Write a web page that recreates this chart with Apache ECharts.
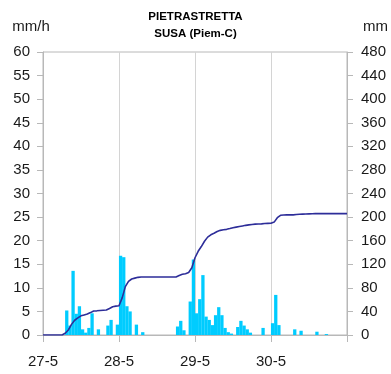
<!DOCTYPE html>
<html>
<head>
<meta charset="utf-8">
<script src="https://cdn.jsdelivr.net/npm/echarts@6/dist/echarts.min.js"></script>
<style>
  html, body { margin: 0; padding: 0; background: #fff; }
  #chart { width: 391px; height: 374px; }
</style>
</head>
<body>
<div id="chart"></div>
<script>
// Day labels at each midnight (hours 0, 24, 48, 72); the last tick (96) is unlabelled
const dayLabels = ['27-5', '28-5', '29-5', '30-5'];

// Hourly rainfall intensity (mm/h), hour 0 = 27-5 00:00
const hourlyRain = [
  0, 0, 0, 0, 0, 0, 0, 5.2, 2.0, 13.6, 4.5, 6.1, 1.2, 0.5, 1.5, 4.6, 0, 1.2, 0, 0, 2.0, 3.2, 0, 2.2,
  16.8, 16.5, 6.1, 5.0, 0, 2.2, 0, 0.6, 0, 0, 0, 0, 0, 0, 0, 0, 0, 0, 1.8, 3.0, 1.0, 0, 7.1, 16.0,
  4.6, 7.6, 12.7, 3.9, 3.2, 2.1, 4.2, 5.9, 4.2, 1.5, 0.6, 0.3, 0, 1.7, 3.0, 2.0, 1.2, 0.5, 0, 0, 0, 1.5, 0, 0,
  2.5, 8.5, 2.1, 0, 0, 0, 0, 1.2, 0, 0.9, 0, 0, 0, 0, 0.7, 0, 0, 0.2, 0, 0, 0, 0, 0, 0
];

// Cumulative rainfall (mm) at each hour boundary, hours 0..96
const cumulativeRain = [
  0, 0, 0, 0, 0, 0, 0, 3, 8.5, 18, 25, 29, 32.5, 34, 35.5, 38, 40.7, 41, 41.5, 42, 42.4, 45, 48, 49,
  49.7, 63, 82, 91, 95, 96.5, 97.8, 98.5, 98.5, 98.5, 98.5, 98.5, 98.5, 98.5, 98.5, 98.5, 98.5, 98.5, 98.5, 101, 103, 104, 106, 114,
  131, 142, 150, 159, 166, 170, 172.5, 175.5, 177.5, 178.5, 179.2, 180.5, 182, 183, 184, 185, 186, 186.8, 187.5, 188, 188.2, 188.5, 189.2, 189.4,
  189.5, 191.5, 199, 203, 203.5, 203.8, 203.8, 203.8, 204.5, 204.8, 205, 205.2, 205.4, 205.6, 205.8, 205.8, 205.8, 205.8, 205.8, 205.8, 205.8, 205.8, 205.8, 205.8,
  205.8
];

const barData = hourlyRain.map((v, h) => [h + 0.5, v]);
const lineData = cumulativeRain.map((v, h) => [h, v]);

const axisGrey = '#b8b8b8';
const textColor = '#1a1a1a';
const font = 'Liberation Sans, Arial, sans-serif';

const chart = echarts.init(document.getElementById('chart'), null, { renderer: 'canvas' });
chart.setOption({
  animation: false,
  backgroundColor: '#fff',
  title: {
    text: 'PIETRASTRETTA',
    subtext: 'SUSA (Piem-C)',
    left: 'center',
    top: 6,
    itemGap: 5,
    textStyle: { fontSize: 11.5, fontWeight: 'bold', color: '#000', fontFamily: font },
    subtextStyle: { fontSize: 11.5, fontWeight: 'bold', color: '#000', fontFamily: font }
  },
  grid: {
    left: 43, right: 44, top: 52, bottom: 39,
    show: true, borderColor: axisGrey, borderWidth: 1, backgroundColor: '#fff'
  },
  xAxis: {
    type: 'value',
    min: 0, max: 96, interval: 24,
    axisLine: { show: true, lineStyle: { color: axisGrey } },
    axisTick: { show: true, length: 7, lineStyle: { color: axisGrey } },
    splitLine: { show: true, lineStyle: { color: '#d4d4d4', width: 1 } },
    axisLabel: {
      margin: 19, fontSize: 15, color: textColor, fontFamily: font,
      formatter: v => dayLabels[v / 24] || ''
    }
  },
  yAxis: [
    {
      type: 'value', min: 0, max: 60, interval: 5,
      name: 'mm/h', nameLocation: 'end', nameGap: 18,
      nameTextStyle: { fontSize: 15, color: textColor, fontFamily: font, align: 'center', padding: [0, 24, 0, 0] },
      axisLine: { show: true, lineStyle: { color: axisGrey } },
      axisTick: { show: true, length: 6, lineStyle: { color: axisGrey } },
      splitLine: { show: false },
      axisLabel: { margin: 13, fontSize: 15, color: textColor, fontFamily: font }
    },
    {
      type: 'value', min: 0, max: 480, interval: 40, position: 'right',
      name: 'mm', nameLocation: 'end', nameGap: 18,
      nameTextStyle: { fontSize: 15, color: textColor, fontFamily: font, align: 'left', padding: [0, 0, 0, 16] },
      axisLine: { show: true, lineStyle: { color: axisGrey } },
      axisTick: { show: true, length: 6, lineStyle: { color: axisGrey } },
      splitLine: { show: false },
      axisLabel: { margin: 14, fontSize: 15, color: textColor, fontFamily: font }
    }
  ],
  series: [
    {
      type: 'bar',
      yAxisIndex: 0,
      data: barData,
      barWidth: 3.3,
      itemStyle: { color: '#00ccff' }
    },
    {
      type: 'line',
      yAxisIndex: 1,
      data: lineData,
      symbol: 'none',
      lineStyle: { color: '#2d2d99', width: 1.6 }
    }
  ]
});
</script>
</body>
</html>
